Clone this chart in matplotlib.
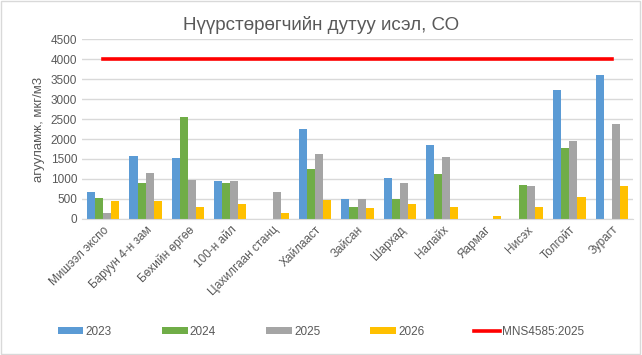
import matplotlib.pyplot as plt
import numpy as np

plt.rcParams['font.family'] = ['Liberation Sans', 'DejaVu Sans']

# Station names and measured CO values (мкг/м3)
stations = ['Мишээл экспо', 'Баруун 4-н зам', 'Бөхийн өргөө', '100-н айл',
            'Цахилгаан станц', 'Хайлааст', 'Зайсан', 'Шархад', 'Налайх',
            'Яармаг', 'Нисэх', 'Толгойт', 'Зурагт']
co_2023 = [670, 1580, 1530, 955, 0, 2240, 490, 1025, 1860, 0, 0, 3230, 3610]
co_2024 = [515, 905, 2545, 905, 0, 1255, 290, 490, 1125, 0, 845, 1785, 0]
co_2025 = [140, 1160, 975, 955, 670, 1635, 490, 900, 1555, 0, 820, 1960, 2370]
co_2026 = [445, 445, 295, 365, 160, 465, 265, 365, 290, 85, 290, 545, 820]
standard = [4000] * len(stations)

series = [('2023', co_2023, '#5B9BD5'), ('2024', co_2024, '#70AD47'),
          ('2025', co_2025, '#A5A5A5'), ('2026', co_2026, '#FFC000')]

fig = plt.figure(figsize=(6.42, 3.55), dpi=100)
ax = fig.add_axes([82/642, 1 - 219/355, 551/642, 180/355])

x = np.arange(len(stations))
w = 0.19
handles = []
for i, (name, vals, col) in enumerate(series):
    handles.append(ax.bar(x + (i - 1.5) * w, vals, w, color=col, label=name, zorder=2))
line, = ax.plot(x, standard, color='#FF0000', lw=2.6, label='MNS4585:2025', zorder=3)
handles.append(line)

ax.set_xlim(-0.5, len(stations) - 0.5)
ax.set_ylim(0, 4500)
ax.set_yticks(range(0, 4501, 500))
ax.grid(axis='y', color='#D9D9D9', lw=1, zorder=0)
ax.tick_params(axis='both', length=0, labelsize=8.5, labelcolor='#595959')
ax.set_xticks(x)
ax.set_xticklabels(stations, rotation=45, ha='right', rotation_mode='anchor')
for s in ax.spines.values():
    s.set_visible(False)
ax.spines['bottom'].set_visible(True)
ax.spines['bottom'].set_color('#D9D9D9')
ax.set_ylabel('агууламж, мкг/м3', fontsize=9.5, color='#595959', labelpad=4)

fig.suptitle('Нүүрстөрөгчийн дутуу исэл, СО', x=0.5, y=0.955,
             fontsize=13.5, color='#595959')

fig.legend(handles=handles, loc='center', bbox_to_anchor=(0.5, 1 - 332/355), ncol=5,
           frameon=False, fontsize=8.5, labelcolor='#595959',
           handlelength=2.2, handleheight=0.5, handletextpad=0.2, columnspacing=4.2)

fig.patches.append(plt.Rectangle((0.002, 0.003), 0.995, 0.993, transform=fig.transFigure,
                                 fill=False, edgecolor='#D9D9D9', lw=1))

fig.savefig('out.png', dpi=100)
